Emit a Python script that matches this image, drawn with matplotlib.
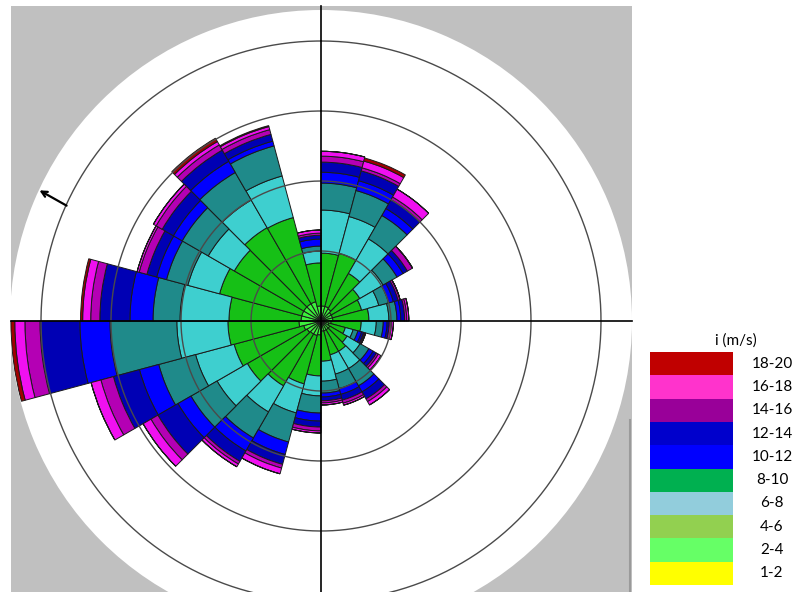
import numpy as np
import matplotlib.pyplot as plt

# 24 direction sectors of 15 degrees, clockwise from north
SECTORS_DEG = np.arange(0, 360, 15)

# frequency (%) per speed class and sector (stacked from the centre outwards)
FREQ_2_4 = [0.43, 0.43, 0.40, 0.34, 0.34, 0.34, 0.29, 0.23, 0.29, 0.29, 0.29, 0.29,
            0.40, 0.43, 0.43, 0.46, 0.51, 0.63, 0.57, 0.57, 0.57, 0.57, 0.57, 0.43]
FREQ_4_6 = [1.51, 1.57, 1.17, 0.94, 0.86, 1.03, 0.86, 0.49, 0.57, 0.71, 0.71, 0.86,
            1.17, 1.43, 1.71, 1.97, 2.06, 2.03, 2.06, 2.43, 2.29, 2.51, 2.49, 1.23]
FREQ_6_8 = [1.23, 1.09, 1.14, 0.77, 0.51, 0.57, 0.43, 0.23, 0.43, 0.57, 0.57, 0.57,
            0.57, 0.86, 0.86, 1.00, 1.14, 1.46, 1.40, 0.94, 0.86, 0.91, 1.23, 0.34]
FREQ_8_10 = [0.77, 0.77, 0.77, 0.46, 0.29, 0.23, 0.20, 0.14, 0.29, 0.57, 0.43, 0.34,
             0.49, 0.86, 0.86, 0.86, 1.09, 1.91, 0.77, 0.63, 0.86, 0.91, 0.89, 0.14]
FREQ_10_12 = [0.31, 0.29, 0.23, 0.20, 0.14, 0.11, 0.11, 0.11, 0.14, 0.20, 0.17, 0.11,
              0.23, 0.37, 0.43, 0.43, 0.57, 0.86, 0.66, 0.29, 0.29, 0.37, 0.14, 0.20]
FREQ_12_14 = [0.29, 0.29, 0.29, 0.14, 0.14, 0.11, 0.06, 0.06, 0.11, 0.23, 0.17, 0.11,
              0.17, 0.29, 0.34, 0.66, 0.77, 1.14, 0.86, 0.29, 0.37, 0.37, 0.20, 0.11]
FREQ_14_16 = [0.17, 0.09, 0.09, 0.17, 0.06, 0.06, 0.06, 0.03, 0.06, 0.09, 0.09, 0.06,
              0.11, 0.11, 0.09, 0.23, 0.37, 0.43, 0.26, 0.23, 0.20, 0.17, 0.14, 0.06]
FREQ_16_18 = [0.14, 0.20, 0.26, 0.00, 0.00, 0.06, 0.06, 0.03, 0.09, 0.11, 0.06, 0.06,
              0.06, 0.17, 0.09, 0.26, 0.29, 0.29, 0.23, 0.06, 0.09, 0.11, 0.09, 0.09]
FREQ_18_20 = [0.00, 0.09, 0.00, 0.00, 0.00, 0.00, 0.00, 0.00, 0.00, 0.00, 0.00, 0.00,
              0.00, 0.00, 0.00, 0.00, 0.00, 0.11, 0.06, 0.00, 0.00, 0.11, 0.03, 0.00]

ROSE_SERIES = [FREQ_2_4, FREQ_4_6, FREQ_6_8, FREQ_8_10, FREQ_10_12,
               FREQ_12_14, FREQ_14_16, FREQ_16_18, FREQ_18_20]
ROSE_COLORS = ["#3cf03c", "#16c016", "#3ecfcf", "#1f8a8a", "#0000ff",
               "#0000b4", "#b400b4", "#f010f0", "#a00000"]

RING_LEVELS = [2, 4, 6, 8]
R_MAX = 311 / 35

LEGEND_LABELS = ["1-2", "2-4", "4-6", "6-8", "8-10",
                 "10-12", "12-14", "14-16", "16-18", "18-20"]
LEGEND_COLORS = ["#ffff00", "#66ff66", "#92d050", "#92cddc", "#00b050",
                 "#0000ff", "#0000cc", "#990099", "#ff33cc", "#c00000"]

W, H = 798, 592

fig = plt.figure(figsize=(W / 100, H / 100), dpi=100, facecolor="white")

# grey panel behind the rose
bg = fig.add_axes([0, 0, 1, 1], zorder=0)
bg.set_xlim(0, W)
bg.set_ylim(H, 0)
bg.axis("off")
bg.add_patch(plt.Rectangle((11, 6), 621, H - 6, facecolor="#c0c0c0", edgecolor="none"))
bg.plot([630, 630], [420, H], color="#9a9a9a", lw=1.5)

# the rose itself
cx, cy, rad = 321, 321, 311
ax = fig.add_axes([(cx - rad) / W, (H - cy - rad) / H, 2 * rad / W, 2 * rad / H],
                  projection="polar", zorder=1)
ax.set_facecolor("white")
ax.set_theta_zero_location("N")
ax.set_theta_direction(-1)
ax.set_ylim(0, R_MAX)
ax.set_xticks([])
ax.set_yticks([])
ax.grid(False)
ax.spines["polar"].set_visible(False)

theta = np.deg2rad(SECTORS_DEG)
width = np.deg2rad(15)
bottom = np.zeros(len(SECTORS_DEG))
for vals, col in zip(ROSE_SERIES, ROSE_COLORS):
    vals = np.array(vals)
    ax.bar(theta, vals, width=width, bottom=bottom, align="edge",
           color=col, edgecolor="#1a1a1a", linewidth=0.7, zorder=2)
    bottom += vals

ring_t = np.linspace(0, 2 * np.pi, 400)
for lvl in RING_LEVELS:
    ax.plot(ring_t, np.full_like(ring_t, lvl), color="#4a4a4a", lw=1.0, zorder=3)

# cross hair and arrow on top
top = fig.add_axes([0, 0, 1, 1], zorder=2)
top.set_xlim(0, W)
top.set_ylim(H, 0)
top.axis("off")
top.patch.set_alpha(0)
top.plot([cx, cx], [6, H], color="black", lw=1.2)
top.plot([11, 632], [cy, cy], color="black", lw=1.2)
top.annotate("", xy=(37, 189), xytext=(69, 207),
             arrowprops=dict(arrowstyle="->", color="black", lw=1.6))

# legend
lg = fig.add_axes([650 / W, (H - 585) / H, 83 / W, 233 / H], zorder=3)
lg.barh(np.arange(len(LEGEND_LABELS)), 1, height=1.0, color=LEGEND_COLORS, edgecolor="none")
lg.set_xlim(0, 1)
lg.set_ylim(-0.5, len(LEGEND_LABELS) - 0.5)
lg.axis("off")
for i, lab in enumerate(LEGEND_LABELS):
    lg.text(1.47, i, lab, ha="center", va="center", fontsize=11,
            family="Lato", clip_on=False)
lg.text(1.04, len(LEGEND_LABELS) - 0.5 + 0.5, "i (m/s)", ha="center", va="center",
        fontsize=11, family="Lato", clip_on=False)

fig.savefig("out.png", dpi=100)
